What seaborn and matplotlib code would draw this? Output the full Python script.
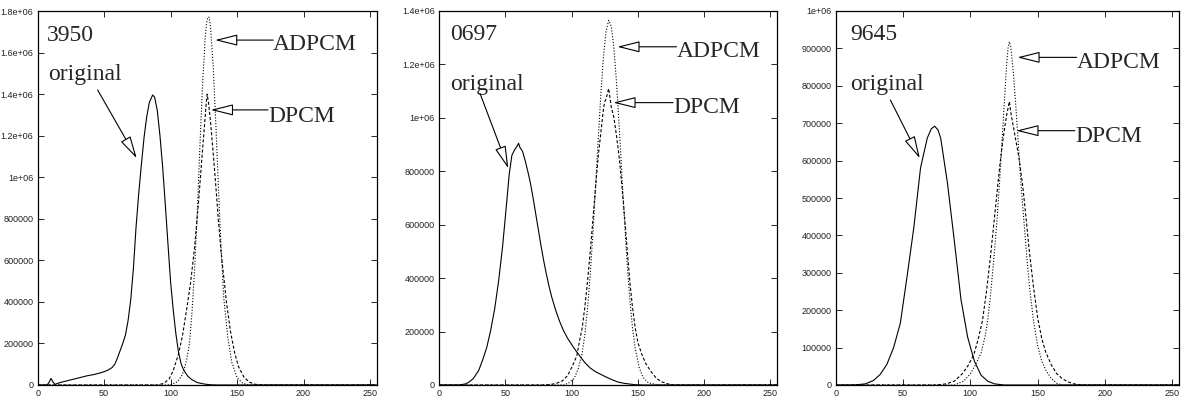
import numpy as np
import pandas as pd
import seaborn as sns
import matplotlib.pyplot as plt
from matplotlib import font_manager
from matplotlib.ticker import FormatStrFormatter, MultipleLocator

# Histogram readings (pixel value -> count in thousands).
# Image 3950
p1_orig_x = [0, 7, 8.5, 10, 11.5, 13, 17, 22, 27, 32, 37, 42, 47, 50, 53, 56, 58, 60, 62, 64, 66, 68, 70, 72, 74,
             76, 78, 80, 82, 84, 86.5, 88, 90, 92, 94, 96, 98, 100, 102, 104, 106, 108, 110, 113, 116, 120, 125, 130, 136, 255]
p1_orig_y = [0, 0, 12, 32, 14, 3, 12, 20, 28, 36, 44, 50, 58, 64, 72, 84, 100, 130, 165, 200, 240, 310, 410, 560, 760,
             920, 1060, 1190, 1290, 1360, 1396, 1385, 1320, 1200, 1050, 870, 680, 495, 360, 245, 155, 100, 70, 42, 26, 12, 5, 1, 0, 0]
p1_dpcm_x = [0, 90, 95, 99, 102, 106, 109, 112, 115, 118, 121, 124, 126, 127, 127.5, 128.5, 130, 132, 134, 136,
             138, 140, 142, 145, 148, 151, 155, 159, 164, 170, 255]
p1_dpcm_y = [0, 0, 8, 30, 70, 150, 240, 360, 490, 660, 880, 1130, 1290, 1370, 1400, 1360, 1270, 1120, 960, 790,
             640, 520, 400, 260, 160, 90, 40, 14, 3, 0, 0]
p1_adpcm_x = [0, 96, 100, 105, 108, 110, 112, 114, 116, 118, 120, 122, 124, 126, 127, 128, 129, 130, 132, 134,
              136, 138, 140, 143, 146, 150, 154, 158, 255]
p1_adpcm_y = [0, 0, 2, 15, 40, 70, 120, 190, 340, 550, 820, 1140, 1440, 1670, 1740, 1770, 1770, 1725, 1540, 1260,
              950, 655, 420, 230, 110, 35, 10, 0, 0]

# Image 0697
p2_orig_x = [0, 15, 20, 23, 26, 30, 33, 36, 39, 42, 45, 48, 51, 53, 55, 57, 59, 60, 61, 63, 65, 67, 69, 71, 73, 75,
             77, 79, 81, 83, 85, 88, 91, 94, 97, 100, 103, 106, 110, 114, 118, 122, 126, 130, 135, 140, 148, 155, 255]
p2_orig_y = [0, 0, 4, 12, 25, 55, 95, 140, 205, 285, 390, 520, 680, 790, 860, 880, 895, 905, 890, 875, 840, 800, 755,
             700, 640, 580, 520, 465, 415, 370, 330, 280, 238, 203, 175, 152, 130, 110, 84, 64, 50, 40, 30, 21, 11, 6, 1, 0, 0]
p2_dpcm_x = [0, 78, 82, 88, 93, 97, 101, 104, 106, 108, 110, 112, 114, 116, 118, 120, 122, 124, 125, 126, 127, 128,
             129, 130, 132, 134, 136, 138, 140, 142, 144, 146, 148, 150, 153, 156, 160, 164, 168, 172, 177, 255]
p2_dpcm_y = [0, 0, 1, 5, 15, 35, 75, 110, 165, 213, 291, 385, 494, 612, 735, 850, 940, 1030, 1060, 1070, 1090, 1110,
             1075, 1040, 1000, 930, 850, 745, 630, 505, 385, 290, 215, 160, 115, 80, 50, 25, 12, 5, 0, 0]
p2_adpcm_x = [0, 94, 98, 102, 105, 108, 110, 112, 114, 116, 118, 120, 122, 124, 126, 128, 130, 132, 134, 136, 138,
              140, 142, 144, 146, 148, 151, 154, 158, 164, 172, 255]
p2_adpcm_y = [0, 0, 8, 25, 60, 119, 188, 284, 408, 558, 730, 910, 1080, 1225, 1324, 1365, 1343, 1260, 1127, 963, 784,
              609, 451, 318, 214, 138, 66, 28, 8, 2, 0, 0]

# Image 9645
p3_orig_x = [0, 10, 15, 22, 28, 33, 38, 43, 48, 53, 58, 63, 68, 71, 73.5, 76, 78, 83, 88, 93, 98, 103, 108, 113,
             118, 125, 255]
p3_orig_y = [0, 0, 0.5, 3, 12, 28, 55, 100, 165, 290, 420, 580, 660, 685, 692, 682, 660, 540, 389, 230, 128, 64, 26,
             10, 3, 0, 0]
p3_dpcm_x = [0, 75, 82, 88, 94, 98, 101, 103, 106, 109, 112, 115, 118, 120, 122, 124, 126, 127, 128, 129, 130, 132,
             134, 136, 139, 141, 144, 147, 150, 153, 156, 160, 164, 168, 172, 177, 183, 255]
p3_dpcm_y = [0, 0, 3, 10, 30, 50, 70, 86, 125, 172, 250, 345, 450, 520, 590, 650, 700, 722, 740, 758, 730, 690,
             650, 610, 530, 460, 352, 260, 180, 125, 88, 55, 31, 18, 9, 3, 0, 0]
p3_adpcm_x = [0, 88, 95, 100, 104, 108, 111, 113, 115, 118, 120, 122, 124, 126, 127, 128, 129, 130, 132, 134, 136,
              138, 140, 142, 144, 147, 150, 153, 156, 160, 164, 168, 255]
p3_adpcm_y = [0, 0, 10, 30, 55, 86, 130, 175, 240, 360, 450, 560, 680, 800, 860, 900, 918, 905, 835, 735, 625,
              520, 430, 340, 260, 170, 105, 65, 40, 18, 5, 0, 0]

image_names = ['3950', '0697', '9645']
y_tops = [1.8e6, 1.4e6, 1e6]
y_steps = [200000, 200000, 100000]
x_ticks = [0, 50, 100, 150, 200, 250]

SERIF = ['Liberation Serif', 'DejaVu Serif']


def make_frame(orig_x, orig_y, dpcm_x, dpcm_y, adpcm_x, adpcm_y):
    parts = []
    for name, xs, ys in [('original', orig_x, orig_y), ('DPCM', dpcm_x, dpcm_y), ('ADPCM', adpcm_x, adpcm_y)]:
        parts.append(pd.DataFrame({'value': xs, 'count': np.array(ys, dtype=float) * 1000, 'series': name}))
    return pd.concat(parts, ignore_index=True)


def arrow(ax, tail, tip):
    ax.annotate('', xy=tip, xytext=tail,
                arrowprops=dict(arrowstyle='-|>,head_length=1.0,head_width=0.25', mutation_scale=14,
                                fc='white', ec='black', lw=0.8, shrinkA=0, shrinkB=0))


sns.set_style('ticks')

# narrow sans for the tick labels if there is one
installed = {f.name for f in font_manager.fontManager.ttflist}
if 'Liberation Sans Narrow' in installed:
    tick_family, tick_size = 'Liberation Sans Narrow', 7
else:
    tick_family, tick_size = 'Liberation Sans', 6.5
plt.rcParams['font.family'] = [tick_family, 'DejaVu Sans']

frames = [
    make_frame(p1_orig_x, p1_orig_y, p1_dpcm_x, p1_dpcm_y, p1_adpcm_x, p1_adpcm_y),
    make_frame(p2_orig_x, p2_orig_y, p2_dpcm_x, p2_dpcm_y, p2_adpcm_x, p2_adpcm_y),
    make_frame(p3_orig_x, p3_orig_y, p3_dpcm_x, p3_dpcm_y, p3_adpcm_x, p3_adpcm_y),
]

# label placements (data coords): name, original text, arrows
layouts = [
    dict(name=(7, 1.656e6), orig=(7.5, 1.468e6), orig_arrow=((45.1, 1.42e6), (74.5, 1.091e6)),
         adpcm=(177.2, 1.612e6, 1.66e6, 133.4), dpcm=(173.3, 1.266e6, 1.324e6, 130.2)),
    dict(name=(8.3, 1.291e6), orig=(8.3, 1.104e6), orig_arrow=((30.9, 1.092e6), (52.3, 811000)),
         adpcm=(179.2, 1.229e6, 1.266e6, 134.5), dpcm=(176.7, 1.017e6, 1.057e6, 131.5)),
    dict(name=(10.7, 922500), orig=(10.7, 788800), orig_arrow=((40.6, 762000), (62.5, 606000)),
         adpcm=(179, 847000, 876000, 134.9), dpcm=(177.7, 650600, 680000, 134.1)),
]

boxes = [
    [37.7 / 1181, 24 / 409, 338.9 / 1181, 374 / 409],
    [439 / 1181, 24 / 409, 338 / 1181, 374 / 409],
    [835.7 / 1181, 24 / 409, 343.3 / 1181, 374 / 409],
]

fig = plt.figure(figsize=(11.81, 4.09), dpi=100)

for i in range(3):
    ax = fig.add_axes(boxes[i])
    sns.lineplot(data=frames[i], x='value', y='count', style='series',
                 dashes={'original': '', 'DPCM': (2.8, 1.8), 'ADPCM': (1, 1.6)},
                 color='black', lw=0.8, legend=False, estimator=None, sort=False, ax=ax)
    ax.set_xlim(0, 255)
    ax.set_ylim(0, y_tops[i])
    ax.set_xticks(x_ticks)
    ax.yaxis.set_major_locator(MultipleLocator(y_steps[i]))
    ax.yaxis.set_major_formatter(FormatStrFormatter('%g'))
    ax.set_xlabel('')
    ax.set_ylabel('')
    ax.tick_params(direction='in', top=True, right=True, length=4, width=0.7,
                   labelsize=tick_size, labelcolor='#222222', pad=3)
    for side in ax.spines.values():
        side.set_visible(True)
        side.set_color('black')
        side.set_linewidth(0.9)

    lay = layouts[i]
    ax.text(lay['name'][0], lay['name'][1], image_names[i], family=SERIF, fontsize=17, va='baseline')
    ax.text(lay['orig'][0], lay['orig'][1], 'original', family=SERIF, fontsize=17, va='baseline')
    arrow(ax, lay['orig_arrow'][0], lay['orig_arrow'][1])
    for label, key in [('ADPCM', 'adpcm'), ('DPCM', 'dpcm')]:
        tx, ty, ay, tip_x = lay[key]
        ax.text(tx, ty, label, family=SERIF, fontsize=17, va='baseline')
        arrow(ax, (tx, ay), (tip_x, ay))

fig.savefig('out.png', dpi=100)
